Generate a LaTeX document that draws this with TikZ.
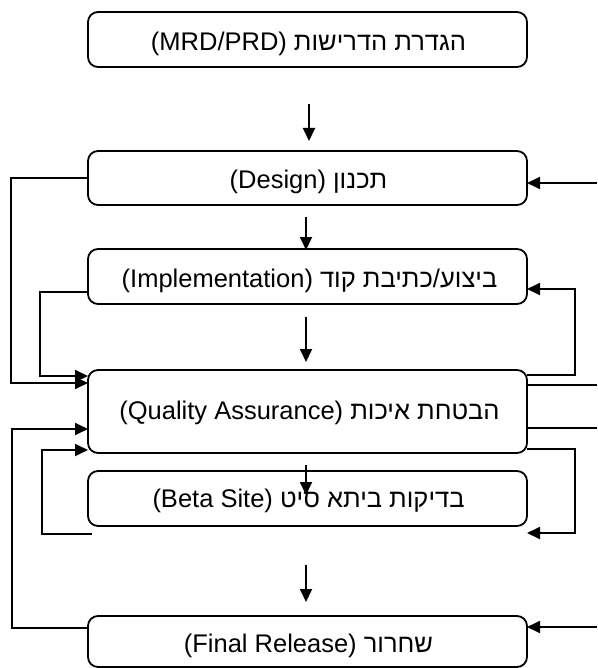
\documentclass[tikz,border=0pt]{standalone}
\usepackage{fontspec}
\TeXXeTstate=1
\newfontfamily\heb[Script=Hebrew]{Liberation Sans}
\newfontfamily\lat{Liberation Sans}
\usetikzlibrary{arrows.meta}
\begin{document}
\begin{tikzpicture}[x=1pt,y=-1pt,
  box/.style={draw, rounded corners=10pt, line width=1.8pt, minimum width=439pt, inner sep=0pt},
  lbl/.style={font=\fontsize{25.5}{30}\selectfont, inner sep=0pt},
  conn/.style={line width=1.8pt},
  arr/.style={conn, -{Triangle[length=13pt,width=12pt]}}]
\useasboundingbox (0,0) rectangle (597,668);
% boxes
\node[box, minimum height=55pt] (req) at (307.5,39.5) {};
\node[box, minimum height=54pt] (des) at (307.5,178) {};
\node[box, minimum height=55pt] (imp) at (307.5,276.5) {};
\node[box, minimum height=83pt] (qa) at (307.5,411.5) {};
\node[box, minimum height=55pt] (beta) at (307.5,498.5) {};
\node[box, minimum height=51pt] (fin) at (307.5,641.5) {};
% labels
\node[lbl] (reqt) at ([xshift=1pt,yshift=-4pt]req.center) {\heb\beginR הגדרת הדרישות \beginL{\lat(MRD/PRD)}\endL\endR};
\node[lbl] (dest) at ([xshift=1pt,yshift=-4pt]des.center) {\heb\beginR תכנון \beginL{\lat(Design)}\endL\endR};
\node[lbl] (impt) at ([xshift=2pt,yshift=-4pt]imp.center) {\heb\beginR ביצוע/כתיבת קוד \beginL{\lat(Implementation)}\endL\endR};
\node[lbl] (qat) at ([xshift=2pt,yshift=-1pt]qa.center) {\heb\beginR הבטחת איכות \beginL{\lat(Quality Assurance)}\endL\endR};
\node[lbl] (betat) at ([xshift=1pt,yshift=-2pt]beta.center) {\heb\beginR בדיקות ביתא סיט \beginL{\lat(Beta Site)}\endL\endR};
\node[lbl] (fint) at ([xshift=1pt,yshift=-4pt]fin.center) {\heb\beginR שחרור \beginL{\lat(Final Release)}\endL\endR};
% coordinates
\coordinate (a1s) at (309,104); \coordinate (a1e) at (309,141);
\coordinate (a2s) at (306,217); \coordinate (a2e) at (306,250);
\coordinate (a3s) at (306,317); \coordinate (a3e) at (306,362);
\coordinate (a4s) at (306,465); \coordinate (a4e) at (306,495);
\coordinate (a5s) at (306,565); \coordinate (a5e) at (306,602);
\coordinate (impL) at (88,292);
\coordinate (finL) at (88,628);
\coordinate (betaL) at (92,534);
\coordinate (qaL1) at (88,376);
\coordinate (qaL2) at (88,383);
\coordinate (qaL3) at (88,429);
\coordinate (qaL4) at (88,450);
\coordinate (desRin) at (597,183); \coordinate (desR) at (527,183);
\coordinate (qaR1) at (527,375); \coordinate (impR) at (527,289);
\coordinate (qaR2) at (527,385); \coordinate (qaR2e) at (597,385);
\coordinate (qaR3) at (527,428); \coordinate (qaR3e) at (597,428);
\coordinate (qaR4) at (527,449); \coordinate (betaR) at (527,533);
\coordinate (finRin) at (597,627); \coordinate (finR) at (527,627);
% down arrows
\draw[arr] (a1s) -- (a1e);
\draw[arr] (a2s) -- (a2e);
\draw[arr] (a3s) -- (a3e);
\draw[arr] (a4s) -- (a4e);
\draw[arr] (a5s) -- (a5e);
% left feedback
\draw[arr] (des.west) -- ++(-76,0) |- (qaL2);
\draw[arr] (impL) -- ++(-48,0) |- (qaL1);
\draw[arr] (finL) -- ++(-76,0) |- (qaL3);
\draw[arr] (betaL) -- ++(-50,0) |- (qaL4);
% right side
\draw[arr] (desRin) -- (desR);
\draw[arr] (qaR1) -- ++(48,0) |- (impR);
\draw[conn] (qaR2) -- (qaR2e);
\draw[conn] (qaR3) -- (qaR3e);
\draw[arr] (qaR4) -- ++(48,0) |- (betaR);
\draw[arr] (finRin) -- (finR);
\end{tikzpicture}
\end{document}
